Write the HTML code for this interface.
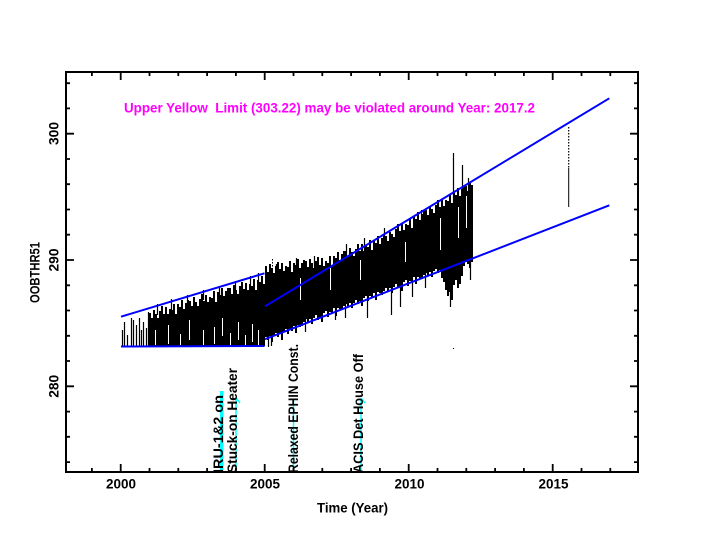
<!DOCTYPE html>
<html><head><meta charset="utf-8"><style>
html,body{margin:0;padding:0;background:#fff;}
svg{display:block;}
text{font-family:"Liberation Sans",sans-serif;font-size:13.5px;font-weight:bold;}
</style></head><body>
<svg width="704" height="544" viewBox="0 0 704 544" xmlns="http://www.w3.org/2000/svg">
<rect width="704" height="544" fill="#fff"/>

<!-- data band: dense vertical lines -->
<path stroke="#000" stroke-width="2" fill="none" d="
M150 313V346 M152 318V346 M154 310V346 M156 314V346 M158 318V346 M160 311V346 M162 306V346 M164 314V346 M166 307V346 M168 314V346
M170 309V346 M172 310V346 M174 304V346 M176 314V346 M178 304V346 M180 307V346 M182 300V346 M184 309V346 M186 303V346 M188 300V346
M190 301V346 M192 306V346 M194 297V346 M196 302V346 M198 306V346 M200 299V346 M202 294V346 M204 301V346 M206 295V346 M208 302V346
M210 297V346 M212 298V346 M214 291V346 M216 302V346 M218 292V346 M220 295V346 M222 288V346 M224 296V346 M226 291V346 M228 288V346
M230 288V346 M232 294V346 M234 285V346 M236 290V346 M238 294V346 M240 286V346 M242 282V346 M244 289V346 M246 283V346 M248 290V346
M250 284V346 M252 286V346 M254 279V346 M256 290V346 M258 280V346 M260 282V346 M262 276V346 M264 284V346
M266 266V337 M268 272V340 M270 264V336 M272 268V342 M274 273V336 M276 266V333 M278 262V337 M280 269V334 M282 263V340 M284 271V331
M286 266V329 M288 267V334 M290 261V330 M292 272V331 M294 263V326 M296 265V333 M298 259V325 M300 268V327 M302 263V326 M304 260V322
M306 261V319 M308 267V322 M310 259V319 M312 263V324 M314 268V318 M316 261V315 M318 257V320 M320 265V317 M322 258V322 M324 266V313
M326 261V311 M328 263V317 M330 256V312 M332 266V313 M334 256V308 M336 258V316 M338 252V308 M340 260V309 M342 254V310 M344 251V306
M346 251V304 M348 257V307 M350 248V303 M352 252V308 M354 256V303 M356 249V300 M358 244V304 M360 251V301 M362 244V306 M364 251V298
M366 246V296 M368 247V301 M370 240V296 M372 250V298 M374 240V293 M376 243V300 M378 236V292 M380 244V293 M382 238V295 M384 235V291
M386 236V288 M388 241V291 M390 232V288 M392 234V293 M394 237V287 M396 229V284 M398 224V288 M400 231V286 M402 224V291 M404 230V282
M406 224V280 M408 225V286 M410 218V281 M412 228V282 M414 217V277 M416 219V284 M418 212V277 M420 220V278 M422 214V279 M424 210V275
M426 210V273 M428 215V276 M430 206V272 M432 209V277 M434 213V271 M436 205V269 M438 200V273 M440 207V270 M442 199V278 M444 206V282
M446 200V290 M448 201V296 M450 194V292 M452 203V300 M454 193V285 M456 195V280 M458 188V288 M460 196V284 M462 189V276 M464 186V266
M466 186V262 M468 191V264 M470 182V268 M472 185V262"/>

<!-- spikes -->
<path stroke="#000" stroke-width="1.2" fill="none" d="
M122.5 330V346 M124.5 322V346 M127.5 335V346 M131.5 318V346 M133.5 320V346 M136.5 325V346 M139.5 318V346 M141.5 330V346 M143.5 322V346 M146.5 328V346 M148.5 312V346
M157.5 304V315 M171.5 299V310 M187.5 295V305 M203.5 290V300 M219.5 286V296 M235.5 281V291 M250.5 276V287 M258.5 273V284
M276.5 264V290 M296.5 258V285 M314.5 256V285 M346.5 244V270 M364.5 238V265 M384.5 228V255 M421.5 210V235 M438.5 200V225 M453.5 153V210 M462.5 165V210 M468.5 178V200
M268.5 330V347 M271.5 330V346 M305.5 310V332 M335.5 300V320 M345.5 295V318 M367.5 290V318 M391.5 285V315 M400.5 280V307 M412.5 278V297 M425.5 270V288 M450.5 275V307 M470.5 258V280"/>

<!-- white gaps -->
<path stroke="#fff" stroke-width="1" fill="none" d="
M155.5 330V345 M168.5 325V344 M180.5 334V345 M189.5 320V340 M203.5 330V345 M214.5 327V344 M222.5 318V336 M230.5 333V345 M238.5 322V340 M245.5 335V345 M252.5 324V342 M258.5 330V345
M300.5 278V300 M330.5 268V290 M360.5 260V280 M405.5 242V262 M440.5 218V250 M458.5 207V238 M466.5 196V228"/>

<!-- dotted bits -->
<path stroke="#000" stroke-width="1" fill="none" stroke-dasharray="1.5 1.5" d="M272.5 259V285"/>
<path stroke="#000" stroke-width="1.2" fill="none" stroke-dasharray="1.5 1.5" d="M568.7 127V168"/>
<path stroke="#000" stroke-width="1" fill="none" d="M568.7 168V207"/>
<rect x="453" y="348" width="1" height="1" fill="#000"/>

<!-- trend lines -->
<g stroke="#0000ff" stroke-width="2" fill="none">
<line x1="121" y1="316.7" x2="264.5" y2="273.3"/>
<line x1="121" y1="346.5" x2="264.5" y2="346"/>
<line x1="265" y1="306.3" x2="609.3" y2="98.3"/>
<line x1="265" y1="339.2" x2="609.3" y2="205.3"/>
</g>

<!-- events -->
<rect x="220" y="391" width="3.5" height="81" fill="#00ffff"/>
<g stroke="#00ffff" stroke-width="1.5" fill="none">
<line x1="236" y1="398" x2="236" y2="472"/>
<line x1="236" y1="398" x2="240" y2="403"/>
<line x1="293.5" y1="400" x2="293.5" y2="472"/>
<line x1="361" y1="398" x2="361" y2="472"/>
<line x1="361" y1="398" x2="365" y2="403"/>
</g>
<g fill="#000">
<text transform="translate(223,473) rotate(-90)" textLength="78" lengthAdjust="spacingAndGlyphs">IRU-1&amp;2 on</text>
<text transform="translate(237,473) rotate(-90)" textLength="105" lengthAdjust="spacingAndGlyphs">Stuck-on Heater</text>
<text transform="translate(298,473) rotate(-90)" textLength="129" lengthAdjust="spacingAndGlyphs">Relaxed EPHIN Const.</text>
<text transform="translate(363,473) rotate(-90)" textLength="119" lengthAdjust="spacingAndGlyphs">ACIS Det House Off</text>
</g>

<!-- frame -->
<rect x="66" y="72" width="572" height="400" fill="none" stroke="#000" stroke-width="2"/>

<!-- ticks -->
<g stroke="#000" stroke-width="1.8">
<path d="M91.9 472v-4 M120.7 472v-8 M149.5 472v-4 M178.3 472v-4 M207.1 472v-4 M235.9 472v-4 M264.7 472v-8 M293.5 472v-4 M322.3 472v-4 M351.1 472v-4 M379.9 472v-4 M408.7 472v-8 M437.5 472v-4 M466.3 472v-4 M495.1 472v-4 M523.9 472v-4 M552.7 472v-8 M581.5 472v-4 M610.3 472v-4"/>
<path d="M91.9 72v4 M120.7 72v8 M149.5 72v4 M178.3 72v4 M207.1 72v4 M235.9 72v4 M264.7 72v8 M293.5 72v4 M322.3 72v4 M351.1 72v4 M379.9 72v4 M408.7 72v8 M437.5 72v4 M466.3 72v4 M495.1 72v4 M523.9 72v4 M552.7 72v8 M581.5 72v4 M610.3 72v4"/>
<path d="M66 83.2h4 M66 108.4h4 M66 133.7h8 M66 159h4 M66 184.2h4 M66 209.5h4 M66 234.7h4 M66 260h8 M66 285.3h4 M66 310.5h4 M66 335.8h4 M66 361h4 M66 386.3h8 M66 411.6h4 M66 436.8h4 M66 462.1h4"/>
<path d="M638 83.2h-4 M638 108.4h-4 M638 133.7h-8 M638 159h-4 M638 184.2h-4 M638 209.5h-4 M638 234.7h-4 M638 260h-8 M638 285.3h-4 M638 310.5h-4 M638 335.8h-4 M638 361h-4 M638 386.3h-8 M638 411.6h-4 M638 436.8h-4 M638 462.1h-4"/>
</g>

<!-- tick labels -->
<g fill="#000" text-anchor="middle">
<text x="121" y="488.5" textLength="30" lengthAdjust="spacingAndGlyphs">2000</text>
<text x="265" y="488.5" textLength="30" lengthAdjust="spacingAndGlyphs">2005</text>
<text x="409.5" y="488.5" textLength="30" lengthAdjust="spacingAndGlyphs">2010</text>
<text x="553.5" y="488.5" textLength="30" lengthAdjust="spacingAndGlyphs">2015</text>
<text transform="translate(58.3,133.5) rotate(-90)" textLength="23" lengthAdjust="spacingAndGlyphs">300</text>
<text transform="translate(58.3,260) rotate(-90)" textLength="23" lengthAdjust="spacingAndGlyphs">290</text>
<text transform="translate(58.3,386.3) rotate(-90)" textLength="23" lengthAdjust="spacingAndGlyphs">280</text>
<text transform="translate(39.5,272.5) rotate(-90)" textLength="61" lengthAdjust="spacingAndGlyphs">OOBTHR51</text>
<text x="352.5" y="512.5" textLength="71" lengthAdjust="spacingAndGlyphs">Time (Year)</text>
</g>

<text x="124" y="112.7" fill="#ff00ff" style="white-space:pre" textLength="411" lengthAdjust="spacingAndGlyphs">Upper Yellow  Limit (303.22) may be violated around Year: 2017.2</text>
</svg>
</body></html>
